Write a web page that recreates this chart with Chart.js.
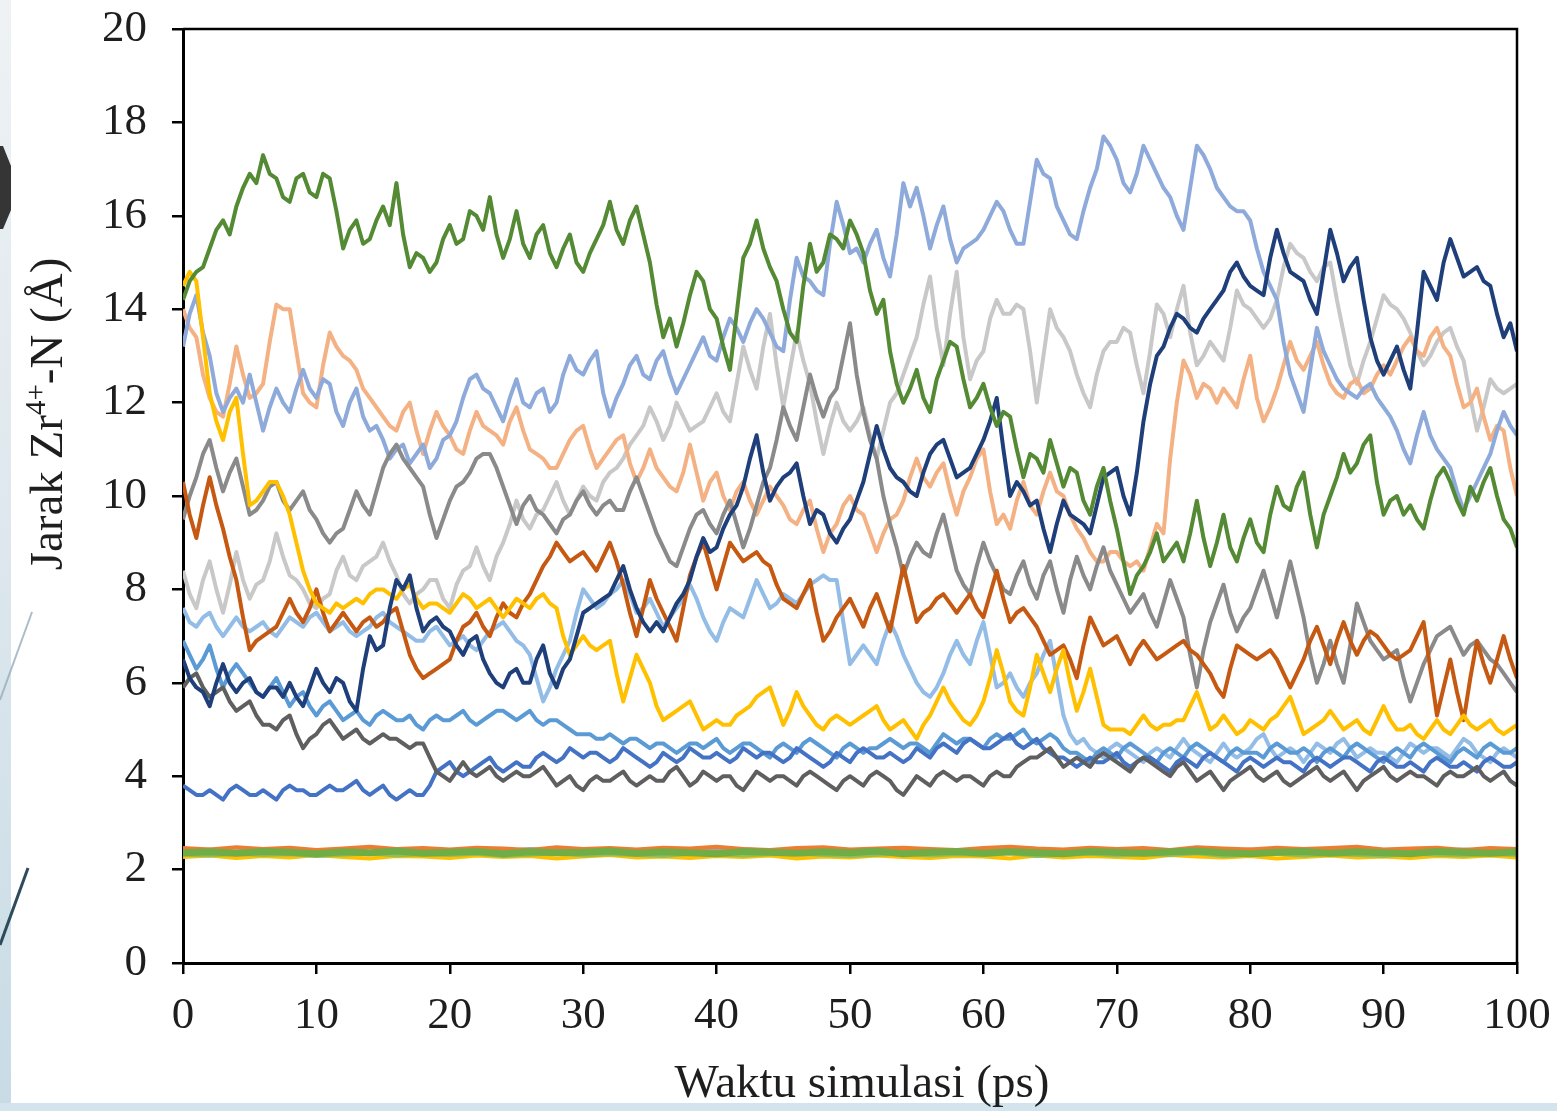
<!DOCTYPE html>
<html lang="id">
<head>
<meta charset="utf-8">
<title>Jarak Zr4+-N terhadap waktu simulasi</title>
<script src="https://cdn.jsdelivr.net/npm/chart.js@4.4.1/dist/chart.umd.min.js"></script>
<style>
  html, body { margin: 0; padding: 0; background: #ffffff; }
  #wadah { position: relative; width: 1557px; height: 1111px; }
  canvas { display: block; }
</style>
</head>
<body>
<div id="wadah"><canvas id="grafik" width="1557" height="1111"></canvas></div>
<script>
// Waktu simulasi (ps) untuk tiap titik lintasan
const waktu = [
  0,0.5,1,1.5,2,2.5,3,3.5,4,4.5,5,5.5,6,6.5,7,7.5,8,8.5,9,9.5,
  10,10.5,11,11.5,12,12.5,13,13.5,14,14.5,15,15.5,16,16.5,17,17.5,18,18.5,19,19.5,
  20,20.5,21,21.5,22,22.5,23,23.5,24,24.5,25,25.5,26,26.5,27,27.5,28,28.5,29,29.5,
  30,30.5,31,31.5,32,32.5,33,33.5,34,34.5,35,35.5,36,36.5,37,37.5,38,38.5,39,39.5,
  40,40.5,41,41.5,42,42.5,43,43.5,44,44.5,45,45.5,46,46.5,47,47.5,48,48.5,49,49.5,
  50,50.5,51,51.5,52,52.5,53,53.5,54,54.5,55,55.5,56,56.5,57,57.5,58,58.5,59,59.5,
  60,60.5,61,61.5,62,62.5,63,63.5,64,64.5,65,65.5,66,66.5,67,67.5,68,68.5,69,69.5,
  70,70.5,71,71.5,72,72.5,73,73.5,74,74.5,75,75.5,76,76.5,77,77.5,78,78.5,79,79.5,
  80,80.5,81,81.5,82,82.5,83,83.5,84,84.5,85,85.5,86,86.5,87,87.5,88,88.5,89,89.5,
  90,90.5,91,91.5,92,92.5,93,93.5,94,94.5,95,95.5,96,96.5,97,97.5,98,98.5,99,99.5,
  100];
const waktuIkatan = [0,2,4,6,8,10,12,14,16,18,20,22,24,26,28,30,32,34,36,38,40,42,44,46,48,50,52,54,56,58,60,62,64,66,68,70,72,74,76,78,80,82,84,86,88,90,92,94,96,98,100];

// Label sumbu
const tickX = [0,10,20,30,40,50,60,70,80,90,100];
const tickY = [0,2,4,6,8,10,12,14,16,18,20];
const judulX = 'Waktu simulasi (ps)';
const judulYAwal = 'Jarak Zr';
const judulYPangkat = '4+';
const judulYAkhir = '-N (\u00C5)';

// Jarak Zr-N (Å) untuk atom N yang berpindah-pindah
const nHijau = [
  14.2,14.6,14.8,14.9,15.3,15.7,15.9,15.6,16.2,16.6,16.9,16.7,17.3,16.9,16.8,16.4,16.3,16.8,16.9,16.5,
  16.4,16.9,16.8,16.1,15.3,15.7,15.9,15.4,15.5,15.9,16.2,15.8,16.7,15.6,14.9,15.2,15.1,14.8,15.0,15.5,
  15.8,15.4,15.5,16.1,16.0,15.7,16.4,15.6,15.1,15.5,16.1,15.4,15.1,15.6,15.8,15.2,14.9,15.3,15.6,15.0,
  14.8,15.2,15.5,15.8,16.3,15.7,15.4,15.9,16.2,15.6,15.0,14.1,13.4,13.8,13.2,13.7,14.3,14.8,14.6,14.0,
  13.8,13.2,12.7,13.9,15.1,15.4,15.9,15.3,14.9,14.6,14.0,13.5,13.3,14.5,15.4,14.8,15.0,15.6,15.5,15.3,
  15.9,15.6,15.2,14.4,13.9,14.2,13.1,12.4,12.0,12.3,12.7,12.1,11.8,12.5,12.9,13.3,13.2,12.5,11.9,12.1,
  12.4,11.9,11.5,11.8,11.7,11.0,10.4,10.9,10.8,10.5,11.2,10.7,10.2,10.6,10.5,9.9,9.6,10.2,10.6,9.9,
  9.3,8.6,7.9,8.3,8.5,8.8,9.2,8.6,8.8,9.0,8.6,9.2,9.9,9.1,8.5,9.0,9.6,8.9,8.6,9.1,
  9.5,9.0,8.8,9.6,10.2,9.8,9.7,10.2,10.5,9.6,8.9,9.6,10.0,10.4,10.9,10.5,10.7,11.1,11.3,10.3,
  9.6,9.9,10.0,9.6,9.8,9.5,9.3,9.9,10.4,10.6,10.3,9.9,9.6,10.2,9.9,10.3,10.6,10.0,9.5,9.3,
  8.9];
const nUnguMuda = [
  13.2,13.9,14.3,13.5,13.0,12.2,11.8,12.1,12.3,12.0,12.6,12.0,11.4,11.9,12.3,12.0,11.8,12.3,12.7,12.3,
  12.1,12.5,12.4,11.8,11.5,12.0,12.3,11.7,11.4,11.5,11.2,10.8,11.0,11.1,10.7,10.9,11.1,10.6,10.8,11.2,
  11.3,11.6,12.1,12.5,12.6,12.3,12.2,11.9,11.6,12.1,12.5,12.0,11.9,12.2,12.3,11.8,12.0,12.6,13.0,12.7,
  12.6,12.9,13.1,12.2,11.7,12.1,12.4,12.8,13.0,12.6,12.5,12.9,13.1,12.6,12.2,12.5,12.8,13.1,13.4,13.0,
  12.9,13.4,13.8,13.6,13.3,13.7,14.0,13.8,13.5,13.2,13.1,14.2,15.1,14.7,14.6,14.4,14.3,15.4,16.3,15.8,
  15.2,15.3,15.0,15.4,15.7,15.1,14.7,15.6,16.7,16.2,16.6,16.0,15.3,15.8,16.2,15.5,15.0,15.3,15.4,15.5,
  15.7,16.0,16.3,16.1,15.7,15.4,15.4,16.3,17.2,16.9,16.8,16.2,15.9,15.6,15.5,16.1,16.6,17.0,17.7,17.5,
  17.2,16.7,16.5,16.9,17.5,17.2,16.9,16.6,16.4,16.0,15.7,16.6,17.5,17.3,17.0,16.6,16.4,16.2,16.1,16.1,
  15.9,15.3,14.8,14.5,14.2,13.3,12.6,12.2,11.8,12.7,13.6,13.1,12.8,12.5,12.3,12.2,12.1,12.3,12.4,12.1,
  11.9,11.7,11.4,11.0,10.7,11.3,11.8,11.3,11.0,10.8,10.6,10.1,9.7,10.0,10.3,10.6,10.9,11.4,11.8,11.5,
  11.3];
const nBiruGelap = [
  6.5,6.1,5.9,5.8,5.5,6.0,6.4,6.0,5.8,6.0,6.1,5.8,5.7,5.9,5.9,5.7,6.0,5.7,5.5,5.9,
  6.3,6.0,5.8,6.1,6.0,5.6,5.4,6.3,7.0,6.7,6.8,7.6,8.2,8.0,8.3,7.6,7.1,7.3,7.4,7.2,
  7.1,6.8,6.6,6.9,7.0,6.5,6.2,6.0,5.9,6.2,6.3,6.0,6.0,6.5,6.8,6.2,5.9,6.3,6.5,7.0,
  7.5,7.6,7.7,7.8,7.9,8.2,8.5,8.0,7.6,7.3,7.1,7.3,7.1,7.4,7.7,7.9,8.2,8.7,9.1,8.8,
  8.9,9.3,9.6,9.8,10.2,10.8,11.3,10.5,9.9,10.2,10.4,10.5,10.7,10.0,9.4,9.7,9.6,9.2,9.0,9.3,
  9.5,9.9,10.3,10.9,11.5,11.0,10.6,10.4,10.3,10.1,10.0,10.5,10.9,11.1,11.2,10.8,10.4,10.5,10.6,10.9,
  11.2,11.6,12.1,11.0,10.0,10.3,10.1,9.8,9.9,9.3,8.8,9.4,9.9,9.6,9.5,9.4,9.2,9.8,10.4,10.5,
  10.6,10.0,9.6,10.5,11.6,12.4,13.0,13.2,13.6,13.9,13.8,13.6,13.5,13.8,14.0,14.2,14.4,14.8,15.0,14.7,
  14.5,14.4,14.3,15.1,15.7,15.2,14.8,14.7,14.6,14.2,13.9,14.8,15.7,15.2,14.6,14.9,15.1,14.2,13.4,12.9,
  12.6,12.9,13.2,12.7,12.3,13.5,14.8,14.5,14.2,15.0,15.5,15.1,14.7,14.8,14.9,14.6,14.5,13.9,13.4,13.7,
  13.1];
const nPersik = [
  14.0,13.6,13.4,12.6,12.1,11.8,11.7,12.4,13.2,12.6,12.1,12.2,12.4,13.3,14.1,14.0,14.0,13.1,12.2,12.0,
  11.9,12.8,13.5,13.2,13.0,12.9,12.7,12.3,12.1,11.9,11.7,11.5,11.4,11.8,12.0,11.4,10.9,11.4,11.8,11.5,
  11.3,11.0,10.9,11.4,11.8,11.5,11.4,11.3,11.1,11.6,11.9,11.4,11.0,10.9,10.8,10.6,10.6,10.9,11.2,11.4,
  11.5,11.0,10.6,10.8,11.0,11.2,11.3,10.7,10.3,10.6,11.0,10.6,10.4,10.2,10.1,10.5,11.1,10.5,9.9,10.3,
  10.5,10.0,9.7,10.1,10.3,9.9,9.6,9.9,10.2,10.0,9.8,9.5,9.4,9.7,9.9,9.3,8.8,9.2,9.4,9.8,
  10.0,9.7,9.6,9.2,8.8,9.2,9.5,9.6,9.9,10.4,10.8,10.4,10.2,10.5,10.7,10.1,9.6,10.1,10.4,10.8,
  11.0,10.1,9.4,9.6,9.3,9.9,10.3,9.8,9.6,10.1,10.5,10.1,10.0,9.6,9.3,9.1,8.8,8.6,8.6,8.8,
  8.8,8.6,8.5,8.6,8.4,8.9,9.4,9.2,10.8,12.0,12.9,12.6,12.1,12.4,12.3,12.0,12.3,12.1,11.9,12.5,
  13.0,12.1,11.6,11.9,12.3,12.8,13.3,12.9,12.7,13.0,13.3,12.8,12.4,12.2,12.1,12.4,12.5,12.2,12.3,12.6,
  12.8,12.6,12.9,13.2,13.4,13.1,13.0,13.4,13.6,13.2,13.0,12.4,11.9,12.0,12.3,11.7,11.2,11.5,11.4,10.6,
  10.0];
const nAbuMuda = [
  8.4,7.9,7.6,8.2,8.6,8.0,7.5,8.1,8.8,8.2,7.8,8.1,8.2,8.6,9.2,8.7,8.3,8.2,8.0,7.7,
  7.6,7.8,7.9,8.4,8.7,8.3,8.2,8.5,8.6,8.7,9.0,8.6,8.3,7.9,7.7,7.9,8.0,8.2,8.2,7.8,
  7.6,8.1,8.4,8.5,8.9,8.5,8.2,8.7,9.0,9.4,9.9,9.5,9.3,9.6,9.7,10.0,10.3,9.9,9.6,9.9,
  10.2,10.0,9.9,10.3,10.5,10.6,10.8,11.1,11.3,11.5,11.9,11.6,11.2,11.5,12.0,11.7,11.4,11.5,11.6,11.9,
  12.2,11.8,11.6,12.4,13.2,12.7,12.3,13.2,13.9,12.8,11.9,12.7,13.5,12.9,12.4,11.6,10.9,11.5,12.0,11.6,
  11.4,11.6,11.9,11.3,10.8,11.4,12.0,12.2,12.6,13.0,13.4,14.1,14.7,13.6,12.8,13.9,14.8,13.4,12.5,12.9,
  13.1,13.8,14.2,13.9,13.9,14.1,14.0,13.1,12.0,13.0,14.0,13.6,13.4,13.1,12.6,12.2,11.9,12.6,13.1,13.3,
  13.3,13.6,13.5,12.8,12.2,13.1,14.1,13.9,13.4,14.0,14.5,13.5,12.8,13.0,13.3,13.1,12.9,13.6,14.4,14.1,
  14.0,13.8,13.6,13.8,14.2,14.9,15.4,15.2,15.1,14.8,14.6,14.9,15.0,14.2,13.5,12.8,12.4,12.9,13.3,13.8,
  14.3,14.1,14.0,13.8,13.5,13.1,12.8,13.0,13.3,13.5,13.6,13.2,12.9,12.1,11.4,11.9,12.5,12.3,12.2,12.3,
  12.4];
const nAbuSedang = [
  9.5,10.0,10.4,10.9,11.2,10.6,10.1,10.5,10.8,10.2,9.6,9.7,9.9,10.2,10.3,9.9,9.7,9.9,10.1,9.7,
  9.5,9.2,9.0,9.2,9.3,9.7,10.1,9.8,9.6,10.1,10.6,10.9,11.1,10.8,10.6,10.4,10.2,9.6,9.1,9.5,
  9.9,10.2,10.3,10.5,10.8,10.9,10.9,10.6,10.2,9.8,9.4,9.8,10.0,9.7,9.6,9.4,9.2,9.5,9.6,9.9,
  10.1,9.8,9.6,9.8,9.9,9.7,9.7,10.1,10.4,10.0,9.6,9.2,8.9,8.6,8.5,8.9,9.3,9.6,9.7,9.4,
  9.2,9.6,9.9,9.4,8.9,9.3,9.8,10.3,10.6,11.2,11.9,11.5,11.2,11.9,12.6,12.1,11.7,12.1,12.3,13.0,
  13.7,12.6,11.8,11.2,10.8,10.0,9.4,8.9,8.3,8.7,9.0,8.8,8.7,9.2,9.6,9.0,8.4,8.1,7.9,8.5,
  9.0,8.6,8.3,8.0,7.9,8.3,8.6,8.1,7.8,8.3,8.6,8.0,7.5,8.2,8.7,8.3,8.0,8.5,8.9,8.4,
  8.1,7.8,7.5,7.7,7.9,7.5,7.2,7.7,8.2,7.8,7.4,6.6,5.9,6.7,7.3,7.7,8.1,7.5,7.1,7.4,
  7.6,8.0,8.4,7.9,7.4,8.0,8.6,8.0,7.4,6.6,6.0,6.4,6.9,6.4,6.0,6.8,7.7,7.3,6.9,6.7,
  6.5,6.6,6.7,6.1,5.6,6.0,6.4,6.7,7.0,7.1,7.2,6.9,6.6,6.8,6.9,6.7,6.5,6.4,6.2,6.0,
  5.8];
const nOranyeTua = [
  10.3,9.6,9.1,9.8,10.4,9.8,9.3,8.7,8.2,7.4,6.7,6.9,7.0,7.1,7.2,7.5,7.8,7.5,7.3,7.6,
  8.0,7.5,7.1,7.3,7.5,7.3,7.1,7.3,7.4,7.2,7.3,7.5,7.6,7.1,6.6,6.3,6.1,6.2,6.3,6.4,
  6.5,6.9,7.2,7.3,7.5,7.2,7.0,7.4,7.7,7.5,7.4,7.7,7.9,8.2,8.5,8.7,9.0,8.8,8.6,8.7,
  8.8,8.6,8.4,8.7,9.0,8.6,8.1,7.5,7.0,7.6,8.2,7.8,7.5,7.2,6.9,7.6,8.3,8.7,9.0,8.5,
  8.0,8.5,9.0,8.8,8.6,8.7,8.8,8.6,8.5,8.1,7.8,7.7,7.6,7.9,8.2,7.5,6.9,7.1,7.4,7.6,
  7.8,7.5,7.2,7.6,7.9,7.5,7.1,7.8,8.5,7.9,7.3,7.5,7.6,7.8,7.9,7.7,7.5,7.7,7.9,7.6,
  7.4,7.9,8.4,7.8,7.3,7.5,7.6,7.4,7.2,6.9,6.6,6.7,6.8,6.5,6.1,6.8,7.4,7.1,6.8,6.9,
  7.0,6.7,6.4,6.7,6.9,6.7,6.5,6.6,6.7,6.8,6.9,6.7,6.6,6.4,6.2,5.9,5.7,6.3,6.8,6.7,
  6.6,6.5,6.6,6.7,6.5,6.2,5.9,6.2,6.5,6.9,7.2,6.8,6.4,6.9,7.3,6.9,6.6,6.9,7.1,7.0,
  6.8,6.6,6.5,6.6,6.7,7.0,7.3,6.3,5.3,5.9,6.5,5.8,5.2,6.1,6.9,6.4,6.0,6.5,7.0,6.5,
  6.1];
const nKuning = [
  14.5,14.8,14.6,13.4,12.2,11.6,11.2,11.8,12.1,10.9,9.8,9.9,10.1,10.3,10.3,10.0,9.6,9.0,8.4,8.0,
  7.7,7.6,7.5,7.7,7.6,7.7,7.8,7.7,7.9,8.0,8.0,7.9,7.8,8.0,8.1,7.8,7.6,7.7,7.7,7.6,
  7.5,7.7,7.9,7.8,7.6,7.7,7.8,7.6,7.4,7.6,7.8,7.7,7.6,7.8,7.9,7.7,7.6,7.0,6.6,6.8,
  7.0,6.8,6.7,6.8,6.9,6.2,5.6,6.1,6.6,6.3,6.0,5.5,5.2,5.3,5.4,5.5,5.6,5.3,5.0,5.1,
  5.2,5.1,5.1,5.3,5.4,5.5,5.7,5.8,5.9,5.5,5.1,5.4,5.8,5.5,5.3,5.1,5.0,5.2,5.3,5.2,
  5.1,5.2,5.3,5.4,5.5,5.2,5.0,5.1,5.2,5.0,4.8,5.1,5.3,5.6,5.9,5.6,5.4,5.2,5.1,5.3,
  5.6,6.1,6.7,6.2,5.6,5.4,5.3,5.9,6.6,6.2,5.8,6.3,6.7,6.0,5.4,5.8,6.3,5.7,5.1,5.0,
  5.0,5.0,4.9,5.1,5.3,5.1,5.0,5.1,5.1,5.2,5.2,5.5,5.8,5.4,5.0,5.1,5.3,5.1,4.9,5.0,
  5.2,5.1,5.0,5.2,5.3,5.5,5.7,5.3,4.9,5.0,5.1,5.2,5.4,5.2,5.0,5.1,5.2,5.0,4.9,5.2,
  5.5,5.2,5.0,5.0,5.1,4.9,4.8,5.0,5.2,5.0,4.9,5.1,5.3,5.1,5.0,5.1,5.2,5.0,4.9,5.0,
  5.1];
const nBiruMuda = [
  7.6,7.3,7.2,7.4,7.5,7.2,7.0,7.2,7.4,7.2,7.1,7.2,7.3,7.1,7.0,7.2,7.4,7.3,7.2,7.4,
  7.5,7.3,7.1,7.2,7.3,7.1,7.0,7.1,7.2,7.4,7.5,7.3,7.2,7.1,7.0,6.9,6.9,7.1,7.2,7.0,
  6.8,6.9,7.0,6.8,6.7,6.9,7.1,7.2,7.3,7.1,6.9,6.8,6.6,6.1,5.6,5.9,6.3,6.6,6.9,7.5,
  8.0,7.8,7.6,7.7,7.9,8.0,8.2,7.9,7.5,7.6,7.8,7.5,7.2,7.4,7.6,7.8,8.1,7.8,7.4,7.1,
  6.9,7.3,7.6,7.5,7.4,7.8,8.2,7.9,7.6,7.7,7.9,7.8,7.7,7.9,8.1,8.2,8.3,8.2,8.2,7.3,
  6.4,6.6,6.8,6.6,6.4,6.9,7.3,7.0,6.6,6.3,6.0,5.8,5.7,5.9,6.2,6.6,6.9,6.6,6.4,6.9,
  7.3,6.6,5.9,6.0,6.2,5.9,5.7,6.0,6.2,6.6,6.9,6.1,5.3,4.9,4.7,4.8,4.6,4.5,4.4,4.6,
  4.7,4.6,4.5,4.4,4.3,4.5,4.6,4.5,4.4,4.6,4.8,4.6,4.5,4.4,4.3,4.5,4.7,4.5,4.4,4.5,
  4.6,4.8,4.9,4.6,4.4,4.5,4.6,4.5,4.3,4.5,4.7,4.6,4.5,4.7,4.8,4.6,4.4,4.5,4.6,4.5,
  4.5,4.4,4.3,4.5,4.7,4.6,4.5,4.6,4.6,4.5,4.4,4.6,4.8,4.7,4.5,4.4,4.3,4.5,4.6,4.5,
  4.4];
const nBiruSedang = [
  6.9,6.6,6.3,6.5,6.8,6.3,5.9,6.2,6.4,6.2,6.0,5.8,5.7,5.9,6.1,5.8,5.5,5.7,5.8,5.5,
  5.3,5.5,5.6,5.4,5.2,5.3,5.4,5.2,5.1,5.3,5.4,5.3,5.2,5.2,5.3,5.1,5.0,5.2,5.3,5.2,
  5.2,5.3,5.4,5.2,5.1,5.2,5.3,5.4,5.4,5.3,5.2,5.3,5.4,5.2,5.1,5.2,5.2,5.1,5.0,4.9,
  4.9,4.9,4.8,4.8,4.9,4.8,4.7,4.8,4.8,4.7,4.6,4.7,4.7,4.6,4.5,4.6,4.7,4.7,4.6,4.7,
  4.8,4.6,4.5,4.6,4.7,4.7,4.6,4.5,4.4,4.6,4.7,4.6,4.5,4.7,4.8,4.7,4.6,4.5,4.4,4.6,
  4.7,4.6,4.5,4.6,4.6,4.7,4.8,4.7,4.6,4.7,4.7,4.6,4.5,4.7,4.9,4.8,4.7,4.8,4.8,4.7,
  4.6,4.8,4.9,4.8,4.8,4.9,5.0,4.8,4.7,4.8,4.9,4.8,4.6,4.5,4.5,4.4,4.3,4.5,4.6,4.5,
  4.4,4.6,4.7,4.6,4.5,4.4,4.3,4.5,4.6,4.5,4.4,4.6,4.7,4.6,4.5,4.4,4.3,4.5,4.6,4.5,
  4.5,4.5,4.4,4.6,4.7,4.6,4.5,4.5,4.6,4.5,4.3,4.5,4.6,4.5,4.4,4.6,4.7,4.6,4.5,4.4,
  4.3,4.5,4.6,4.5,4.4,4.6,4.7,4.6,4.5,4.4,4.3,4.5,4.6,4.5,4.4,4.6,4.7,4.6,4.5,4.5,
  4.6];
const nBiruTua = [
  3.8,3.7,3.6,3.6,3.7,3.6,3.5,3.7,3.8,3.7,3.6,3.6,3.7,3.6,3.5,3.7,3.8,3.7,3.7,3.6,
  3.6,3.7,3.8,3.7,3.7,3.8,3.9,3.7,3.6,3.7,3.8,3.6,3.5,3.6,3.7,3.6,3.6,3.8,4.1,4.2,
  4.3,4.1,4.0,4.1,4.2,4.3,4.4,4.2,4.1,4.2,4.3,4.2,4.2,4.4,4.5,4.4,4.3,4.4,4.6,4.5,
  4.4,4.5,4.5,4.4,4.3,4.4,4.6,4.5,4.4,4.3,4.2,4.3,4.5,4.4,4.3,4.4,4.6,4.5,4.4,4.4,
  4.5,4.4,4.3,4.4,4.6,4.5,4.4,4.5,4.5,4.4,4.3,4.4,4.6,4.5,4.4,4.3,4.2,4.3,4.5,4.4,
  4.3,4.5,4.6,4.5,4.4,4.4,4.5,4.4,4.3,4.4,4.6,4.5,4.4,4.6,4.7,4.6,4.5,4.7,4.8,4.7,
  4.6,4.6,4.7,4.8,4.9,4.7,4.6,4.7,4.8,4.6,4.5,4.4,4.4,4.3,4.2,4.3,4.4,4.3,4.3,4.4,
  4.5,4.3,4.2,4.3,4.4,4.4,4.3,4.2,4.1,4.3,4.4,4.3,4.2,4.4,4.5,4.4,4.3,4.2,4.1,4.3,
  4.4,4.3,4.2,4.3,4.4,4.3,4.3,4.2,4.1,4.3,4.4,4.3,4.2,4.3,4.4,4.4,4.3,4.2,4.1,4.3,
  4.4,4.3,4.2,4.2,4.3,4.2,4.1,4.3,4.4,4.3,4.2,4.2,4.3,4.2,4.1,4.3,4.4,4.3,4.2,4.2,
  4.3];
const nAbuTua = [
  5.9,6.1,6.2,5.9,5.7,5.8,5.9,5.6,5.4,5.5,5.6,5.3,5.1,5.1,5.0,5.2,5.3,4.9,4.6,4.8,
  4.9,5.1,5.2,5.0,4.8,4.9,5.0,4.8,4.7,4.8,4.9,4.8,4.8,4.7,4.6,4.7,4.7,4.4,4.1,4.0,
  3.9,4.1,4.3,4.1,4.0,4.1,4.2,4.0,3.9,4.0,4.1,4.0,4.0,4.1,4.2,4.0,3.8,3.9,4.0,3.8,
  3.7,3.9,4.0,3.9,3.9,4.0,4.1,3.9,3.8,3.9,4.0,3.9,3.9,4.1,4.2,4.0,3.8,3.9,4.1,4.0,
  3.9,4.0,4.0,3.8,3.7,3.9,4.1,4.0,3.9,4.0,4.0,3.9,3.8,4.0,4.1,4.0,3.9,3.8,3.7,3.9,
  4.0,3.9,3.8,4.0,4.1,4.0,3.9,3.7,3.6,3.8,4.0,3.9,3.8,4.0,4.1,4.0,3.9,4.0,4.0,3.9,
  3.8,4.0,4.1,4.0,4.0,4.2,4.3,4.4,4.4,4.5,4.6,4.4,4.2,4.3,4.4,4.3,4.2,4.4,4.5,4.4,
  4.3,4.2,4.1,4.3,4.4,4.3,4.2,4.1,4.0,4.2,4.3,4.1,3.9,4.0,4.1,3.9,3.7,3.9,4.0,4.1,
  4.2,4.0,3.9,4.0,4.1,3.9,3.8,3.9,4.0,4.1,4.2,4.0,3.9,4.0,4.1,3.9,3.7,3.9,4.0,4.1,
  4.2,4.0,3.9,4.0,4.1,4.0,4.0,3.9,3.8,4.0,4.1,4.0,4.0,4.1,4.2,4.0,3.9,4.0,4.1,3.9,
  3.8];

// Jarak Zr-N (Å) untuk atom N yang terikat langsung
const ikatanHijau = [
  2.36,2.38,2.35,2.39,2.37,2.34,2.38,2.36,2.40,2.35,
  2.37,2.39,2.34,2.38,2.36,2.37,2.40,2.35,2.38,2.36,
  2.34,2.39,2.37,2.35,2.38,2.36,2.40,2.34,2.37,2.39,
  2.35,2.38,2.36,2.34,2.39,2.37,2.35,2.38,2.40,2.36,
  2.34,2.37,2.39,2.35,2.38,2.36,2.34,2.39,2.37,2.35,
  2.38];
const ikatanHijauMuda = [
  2.32,2.30,2.34,2.31,2.33,2.29,2.32,2.35,2.30,2.33,
  2.31,2.34,2.29,2.32,2.35,2.30,2.33,2.31,2.29,2.34,
  2.32,2.30,2.33,2.35,2.31,2.29,2.32,2.34,2.30,2.33,
  2.31,2.35,2.29,2.32,2.34,2.30,2.33,2.31,2.35,2.29,
  2.32,2.34,2.30,2.33,2.31,2.29,2.34,2.32,2.30,2.33,
  2.31];
const ikatanOranye = [
  2.46,2.43,2.48,2.44,2.47,2.42,2.45,2.49,2.44,2.46,
  2.43,2.47,2.45,2.42,2.48,2.44,2.46,2.43,2.47,2.45,
  2.49,2.44,2.42,2.46,2.48,2.43,2.45,2.47,2.44,2.42,
  2.46,2.49,2.45,2.43,2.47,2.44,2.46,2.42,2.48,2.45,
  2.43,2.47,2.44,2.46,2.49,2.43,2.45,2.47,2.42,2.46,
  2.44];
const ikatanKuning = [
  2.27,2.30,2.25,2.29,2.26,2.31,2.27,2.24,2.29,2.28,
  2.25,2.30,2.27,2.29,2.24,2.28,2.31,2.26,2.28,2.25,
  2.29,2.27,2.30,2.24,2.28,2.26,2.30,2.27,2.25,2.29,
  2.28,2.24,2.30,2.26,2.29,2.27,2.25,2.31,2.28,2.26,
  2.29,2.24,2.27,2.30,2.26,2.28,2.25,2.29,2.27,2.30,
  2.26];
const ikatanAbu = [
  2.40,2.43,2.39,2.42,2.44,2.40,2.41,2.38,2.43,2.41,
  2.39,2.42,2.40,2.44,2.41,2.38,2.42,2.40,2.43,2.39,
  2.41,2.44,2.40,2.42,2.38,2.41,2.43,2.39,2.42,2.40,
  2.44,2.41,2.39,2.42,2.40,2.43,2.38,2.41,2.42,2.40,
  2.43,2.39,2.41,2.44,2.40,2.42,2.39,2.41,2.43,2.40,
  2.42];
const ikatanBiru = [
  2.35,2.38,2.34,2.37,2.36,2.39,2.35,2.33,2.37,2.36,
  2.38,2.34,2.36,2.39,2.35,2.37,2.33,2.36,2.38,2.35,
  2.37,2.34,2.36,2.39,2.35,2.38,2.34,2.36,2.37,2.33,
  2.36,2.38,2.35,2.37,2.34,2.36,2.39,2.35,2.37,2.34,
  2.36,2.38,2.35,2.33,2.37,2.36,2.39,2.34,2.36,2.38,
  2.35];

const hurufSerif = '"Liberation Serif", "Times New Roman", Times, serif';
const warnaTeks = '#1e1e1e';

function titik(xs, ys) {
  return ys.map((y, i) => ({ x: xs[i], y: y }));
}
function garis(label, xs, ys, warna, tebal) {
  return {
    label: label,
    data: titik(xs, ys),
    borderColor: warna,
    backgroundColor: warna,
    borderWidth: tebal,
    pointRadius: 0,
    tension: 0,
    fill: false
  };
}

// Urutan: dataset pertama digambar paling atas
const datasets = [
  garis('ikatan hijau', waktuIkatan, ikatanHijau, '#70ad47', 7),
  garis('ikatan hijau muda', waktuIkatan, ikatanHijauMuda, '#8fbf5a', 4),
  garis('ikatan oranye', waktuIkatan, ikatanOranye, '#ed7d31', 4),
  garis('ikatan kuning', waktuIkatan, ikatanKuning, '#ffc000', 4),
  garis('ikatan abu', waktuIkatan, ikatanAbu, '#a5a5a5', 4),
  garis('ikatan biru', waktuIkatan, ikatanBiru, '#5b9bd5', 4),
  garis('N hijau', waktu, nHijau, '#538a33', 4),
  garis('N biru gelap', waktu, nBiruGelap, '#1f3f7a', 4),
  garis('N kuning', waktu, nKuning, '#ffc000', 4),
  garis('N oranye tua', waktu, nOranyeTua, '#c65911', 4),
  garis('N abu sedang', waktu, nAbuSedang, '#8a8a8a', 4),
  garis('N ungu muda', waktu, nUnguMuda, '#8eaadb', 4),
  garis('N persik', waktu, nPersik, '#f4b183', 4),
  garis('N abu muda', waktu, nAbuMuda, '#c8c8c8', 4),
  garis('N abu tua', waktu, nAbuTua, '#5f5f5f', 4),
  garis('N biru tua', waktu, nBiruTua, '#4472c4', 4),
  garis('N biru sedang', waktu, nBiruSedang, '#5b9bd5', 4),
  garis('N biru muda', waktu, nBiruMuda, '#93bde6', 4)
];

// Latar slide di tepi kiri dan bawah
const latarSlide = {
  id: 'latarSlide',
  beforeDraw(chart) {
    const c = chart.ctx;
    const w = chart.width, h = chart.height;
    c.save();
    c.fillStyle = '#ffffff';
    c.fillRect(0, 0, w, h);
    const g = c.createLinearGradient(0, 0, 0, h);
    g.addColorStop(0, '#eef2f5');
    g.addColorStop(0.5, '#dde7ed');
    g.addColorStop(1, '#c8dbe5');
    c.fillStyle = g;
    c.fillRect(0, 0, 11, h);
    c.fillStyle = '#d3e4ed';
    c.fillRect(0, 1103, w, h - 1103);
    c.fillStyle = '#353535';
    c.beginPath();
    c.moveTo(0, 146); c.lineTo(3, 146); c.lineTo(11, 166);
    c.lineTo(11, 210); c.lineTo(3, 229); c.lineTo(0, 229);
    c.closePath(); c.fill();
    c.strokeStyle = 'rgba(150,172,188,0.8)';
    c.lineWidth = 2;
    c.beginPath(); c.moveTo(32, 612); c.lineTo(0, 700); c.stroke();
    c.strokeStyle = '#2e4b5e';
    c.lineWidth = 3;
    c.beginPath(); c.moveTo(28, 868); c.lineTo(0, 945); c.stroke();
    c.restore();
  }
};

// Bingkai atas/kanan dan judul sumbu
const bingkaiJudul = {
  id: 'bingkaiJudul',
  afterDraw(chart) {
    const c = chart.ctx;
    const a = chart.chartArea;
    c.save();
    c.strokeStyle = '#000000';
    c.lineWidth = 2.5;
    c.beginPath();
    c.moveTo(a.left, a.top);
    c.lineTo(a.right, a.top);
    c.lineTo(a.right, a.bottom);
    c.stroke();

    c.fillStyle = warnaTeks;
    c.font = '47px ' + hurufSerif;
    c.textAlign = 'center';
    c.textBaseline = 'alphabetic';
    c.fillText(judulX, 862, 1097);

    const fUtama = '47px ' + hurufSerif;
    const fPangkat = '29px ' + hurufSerif;
    c.font = fUtama;
    const w1 = c.measureText(judulYAwal).width;
    const w3 = c.measureText(judulYAkhir).width;
    c.font = fPangkat;
    const w2 = c.measureText(judulYPangkat).width;
    const total = w1 + w2 + w3;
    c.translate(62, 414);
    c.rotate(-Math.PI / 2);
    c.textAlign = 'left';
    let x = -total / 2;
    c.font = fUtama;
    c.fillText(judulYAwal, x, 0);
    x += w1;
    c.font = fPangkat;
    c.fillText(judulYPangkat, x, -17);
    x += w2;
    c.font = fUtama;
    c.fillText(judulYAkhir, x, 0);
    c.restore();
  }
};

const hurufTick = { family: hurufSerif, size: 45 };

new Chart(document.getElementById('grafik'), {
  type: 'line',
  data: { datasets: datasets },
  options: {
    responsive: false,
    animation: false,
    devicePixelRatio: 1,
    layout: { padding: { top: 29, right: 40, left: 0, bottom: 0 } },
    plugins: { legend: { display: false }, tooltip: { enabled: false } },
    elements: { point: { radius: 0 }, line: { borderJoinStyle: 'round' } },
    scales: {
      x: {
        type: 'linear',
        min: 0,
        max: 100,
        afterBuildTicks(s) { s.ticks = tickX.map(v => ({ value: v })); },
        ticks: { padding: 15, color: warnaTeks, font: hurufTick, maxRotation: 0 },
        grid: { drawOnChartArea: false, drawTicks: true, tickLength: 11, color: '#000000', lineWidth: 2.5 },
        border: { display: true, color: '#000000', width: 3 },
        afterFit(s) { s.height = 148; s.paddingLeft = 0; s.paddingRight = 0; }
      },
      y: {
        type: 'linear',
        min: 0,
        max: 20,
        afterBuildTicks(s) { s.ticks = tickY.map(v => ({ value: v })); },
        ticks: { padding: 25, color: warnaTeks, font: hurufTick },
        grid: { drawOnChartArea: false, drawTicks: true, tickLength: 11, color: '#000000', lineWidth: 2.5 },
        border: { display: true, color: '#000000', width: 3 },
        afterFit(s) { s.width = 183; s.paddingTop = 0; s.paddingBottom = 0; }
      }
    }
  },
  plugins: [latarSlide, bingkaiJudul]
});
</script>
</body>
</html>
